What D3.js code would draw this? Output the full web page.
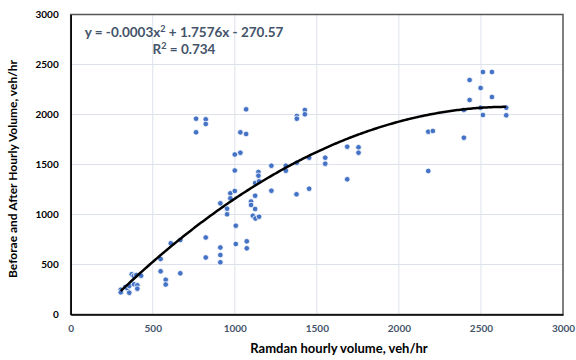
<!DOCTYPE html>
<html>
<head>
<meta charset="utf-8">
<script src="https://cdn.jsdelivr.net/npm/d3@7/dist/d3.min.js"></script>
<style>
  html, body { margin: 0; padding: 0; background: #fff; }
  svg { display: block; }
</style>
</head>
<body>
<svg id="chart" width="576" height="360"></svg>
<script>
// Ramadan hourly volume (x) vs. before/after hourly volume (y), veh/hr
const ramadanVolume = [
  305, 305, 333, 345, 357, 357, 372, 384, 400, 386, 406, 406, 429,
  548, 548, 579, 579, 610, 668, 668,
  823, 823, 912, 912, 912,
  764, 823, 823, 764,
  1069, 1034, 1069,
  1000, 1034, 1000,
  912, 953, 953, 973, 973, 1000, 1006, 1006,
  1073, 1073, 1099, 1099, 1124, 1124, 1110, 1126, 1148,
  1124, 1144, 1144, 1148,
  1223, 1223, 1311, 1311, 1376, 1378, 1453, 1453,
  1378, 1378, 1427, 1427,
  1551, 1551, 1685, 1685, 1754, 1754,
  2179, 2207, 2179, 2396, 2396, 2431, 2431, 2498, 2498, 2512, 2512, 2567, 2567, 2654, 2654
];
const beforeAfterVolume = [
  248, 222, 275, 262, 218, 285, 402, 385, 395, 302, 292, 258, 388,
  555, 432, 348, 300, 712, 745, 412,
  770, 570, 670, 595, 522,
  1958, 1952, 1905, 1822,
  2052, 1822, 1805,
  1600, 1618, 1440,
  1112, 1058, 1002, 1212, 1162, 1235, 888, 705,
  732, 662, 1130, 1095, 1188, 1055, 988, 960, 978,
  1315, 1425, 1388, 1332,
  1488, 1238, 1488, 1438, 1202, 1518, 1568, 1258,
  1985, 1958, 2045, 2002,
  1568, 1508, 1678, 1352, 1672, 1618,
  1828, 1835, 1435, 1768, 2045, 2345, 2145, 2265, 2068, 2425, 1995, 2425, 2175, 2068, 1992
];

// Polynomial trendline (order 2): y = a*x^2 + b*x + c
const trendCoef = [-0.000329, 1.7576, -270.57];
const trendLabel = ["y = -0.0003x", "2", " + 1.7576x - 270.57"];
const r2Label = ["R", "2", " = 0.734"];

const xTicks = [0, 500, 1000, 1500, 2000, 2500, 3000];
const yTicks = [0, 500, 1000, 1500, 2000, 2500, 3000];

const xTitle = "Ramdan hourly volume, veh/hr";
const yTitle = "Beforae and After Hourly Volume, veh/hr";

const points = ramadanVolume.map((x, i) => ({ x, y: beforeAfterVolume[i] }));

const svg = d3.select("#chart");
const margin = { left: 70.7, right: 13, top: 14.5, bottom: 45.5 };
const W = 576, H = 360;

const x = d3.scaleLinear().domain([0, 3000]).range([margin.left, W - margin.right]);
const y = d3.scaleLinear().domain([0, 3000]).range([H - margin.bottom, margin.top]);

const font = "Lato, 'Open Sans', sans-serif";

// gridlines
svg.append("g").selectAll("line.v").data(xTicks.slice(1, -1)).join("line")
  .attr("x1", d => x(d)).attr("x2", d => x(d))
  .attr("y1", y(0)).attr("y2", y(3000))
  .attr("stroke", "#dde2ea").attr("stroke-width", 1);
svg.append("g").selectAll("line.h").data(yTicks.slice(1, -1)).join("line")
  .attr("x1", x(0)).attr("x2", x(3000))
  .attr("y1", d => y(d)).attr("y2", d => y(d))
  .attr("stroke", "#dde2ea").attr("stroke-width", 1);

// plot frame
svg.append("rect")
  .attr("x", x(0)).attr("y", y(3000))
  .attr("width", x(3000) - x(0)).attr("height", y(0) - y(3000))
  .attr("fill", "none").attr("stroke", "#555").attr("stroke-width", 1.5);

// axes
const xAxis = d3.axisBottom(x).tickValues(xTicks).tickSize(0).tickPadding(10).tickFormat(d3.format("d"));
const yAxis = d3.axisLeft(y).tickValues(yTicks).tickSize(0).tickPadding(12).tickFormat(d3.format("d"));

const gx = svg.append("g").attr("transform", `translate(0,${y(0)})`).call(xAxis);
gx.select(".domain").attr("stroke", "#000").attr("stroke-width", 1.5);
gx.selectAll("text").attr("font-family", font).attr("font-weight", "bold")
  .attr("font-size", 10).attr("fill", "#44546a");

const gy = svg.append("g").attr("transform", `translate(${x(0)},0)`).call(yAxis);
gy.select(".domain").attr("stroke", "#000").attr("stroke-width", 1.5);
gy.selectAll("text").attr("font-family", font).attr("font-weight", "bold")
  .attr("font-size", 10).attr("fill", "#000");

// axis titles
svg.append("text")
  .attr("x", 339).attr("y", 353)
  .attr("text-anchor", "middle")
  .attr("font-family", font).attr("font-weight", "bold").attr("font-size", 13)
  .attr("fill", "#000").text(xTitle);

svg.append("text")
  .attr("transform", `translate(17,169) rotate(-90)`)
  .attr("text-anchor", "middle")
  .attr("font-family", font).attr("font-weight", "bold").attr("font-size", 12)
  .attr("fill", "#000").text(yTitle);

// scatter points
svg.append("g").selectAll("circle").data(points).join("circle")
  .attr("cx", d => x(d.x)).attr("cy", d => y(d.y))
  .attr("r", 2.8)
  .attr("fill", "#4472c4")
  .attr("stroke", "#fff").attr("stroke-width", 0.8);

// trendline across the data range
const [a, b, c] = trendCoef;
const xMin = d3.min(ramadanVolume), xMax = d3.max(ramadanVolume);
const curve = d3.range(xMin, xMax + 1, 10).concat([xMax]).map(v => [v, a * v * v + b * v + c]);
svg.append("path")
  .datum(curve)
  .attr("d", d3.line().x(d => x(d[0])).y(d => y(d[1])))
  .attr("fill", "none").attr("stroke", "#000").attr("stroke-width", 2.5);

// trendline equation
function supText(xPos, yPos, parts) {
  const t = svg.append("text")
    .attr("x", xPos).attr("y", yPos)
    .attr("text-anchor", "middle")
    .attr("font-family", font).attr("font-weight", "bold").attr("font-size", 13.5)
    .attr("fill", "#44546a");
  t.append("tspan").text(parts[0]);
  t.append("tspan").attr("dy", -5).attr("font-size", 9).text(parts[1]);
  t.append("tspan").attr("dy", 5).text(parts[2]);
  return t;
}
supText(184, 37, trendLabel);
supText(184, 53.5, r2Label);
</script>
</body>
</html>
